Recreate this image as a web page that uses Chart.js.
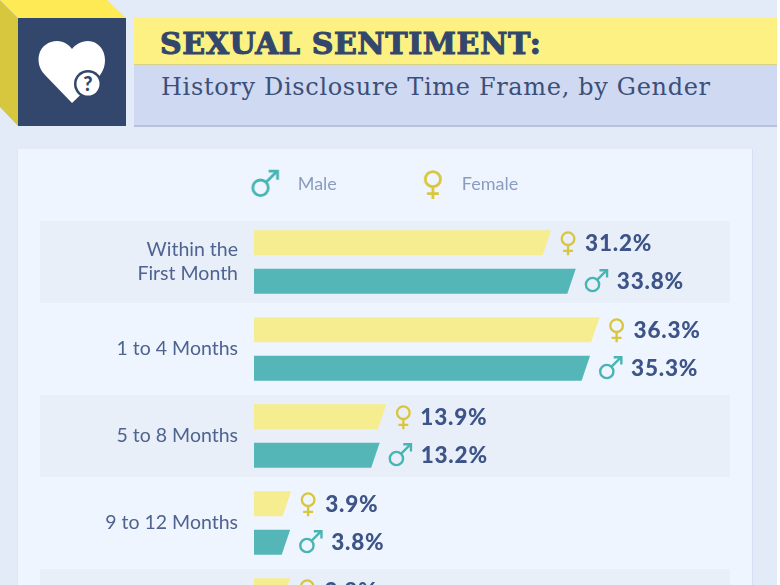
<!DOCTYPE html>
<html><head><meta charset="utf-8">
<script src="https://cdn.jsdelivr.net/npm/chart.js@4/dist/chart.umd.min.js"></script>
<style>
html,body{margin:0;padding:0;width:780px;height:585px;overflow:hidden;background:#fff}
#page{position:absolute;left:0;top:0;width:777px;height:585px;background:#e3eaf8;overflow:hidden}
.abs{position:absolute}
#card{left:18px;top:149px;width:734px;height:500px;background:#eff5fe;box-shadow:-1px 0 0 #dfe7f6,1px 0 0 #d5dff3}
#yl{left:134px;top:18px;width:643px;height:47px;background:#fdf183;box-shadow:inset 0 -1px 0 #d9d08a}
#bl{left:134px;top:65px;width:643px;height:60px;background:#cfd9f2;border-bottom:2px solid #b7c1dc}
#t1{left:160px;top:26px;font:900 30px "DejaVu Serif";letter-spacing:.55px;color:#33466b;-webkit-text-stroke:1.1px #33466b;white-space:nowrap}
#t2{left:161px;top:73px;font:400 24px "DejaVu Serif";letter-spacing:.67px;color:#3b4f78;white-space:nowrap}
canvas{position:absolute;left:0;top:0}
</style></head><body>
<div id="page">
<svg class="abs" style="left:0;top:0" width="130" height="130">
<polygon points="0,0 107,0 126,18 18,18" fill="#fdea55"/>
<polygon points="0,0 18,18 18,126 0,107" fill="#d6c73f"/>
<rect x="18" y="18" width="108" height="108" fill="#33466b"/>
<path d="M72 103 L45 75 C38 68 38 59 39 55 C41 46 49 41 57 41 C64 41 69 45 72 49 C75 45 81 41 88 41 C98 41 105 50 105 60 C105 68 102 73 97 79 Z" fill="#fff"/>
<circle cx="88" cy="84" r="14" fill="#33466b"/>
<circle cx="88" cy="84" r="11.5" fill="#fff"/>
<text x="88" y="91" text-anchor="middle" font-family="Lato" font-weight="900" font-size="20" fill="#33466b">?</text>
</svg>
<div class="abs" id="yl"></div><div class="abs" id="bl"></div>
<div class="abs" id="t1">SEXUAL SENTIMENT:</div>
<div class="abs" id="t2">History Disclosure Time Frame, by Gender</div>
<div class="abs" id="card"></div>
<canvas id="c" width="780" height="720" style="width:780px;height:720px"></canvas>
</div>
<script>
const categories = [["Within the","First Month"],"1 to 4 Months","5 to 8 Months","9 to 12 Months","More than 1 Year"];
const femaleValues = [31.2,36.3,13.9,3.9,3.8];
const maleValues = [33.8,35.3,13.2,3.8,3.7];
const seriesNames = ["Female","Male"];
const YELLOW="#f6ec90", TEAL="#55b6b8", INK="#3d5488", LABEL="#4e6390", FCOL="#d9c63f", MCOL="#47b5b3";
const BAND="#e9eff8", LEGEND="#8a9cc0";

function drawMale(ctx,x,y,s,col){
  ctx.save();ctx.translate(x,y);ctx.scale(s,s);ctx.strokeStyle=col;ctx.lineWidth=2.6;ctx.lineCap="butt";
  ctx.beginPath();ctx.arc(-3,3.5,7.2,0,Math.PI*2);ctx.stroke();
  ctx.beginPath();ctx.moveTo(2.2,-1.7);ctx.lineTo(12,-11.5);ctx.stroke();
  ctx.beginPath();ctx.moveTo(4.5,-12);ctx.lineTo(12.8,-12);ctx.lineTo(12.8,-4);ctx.stroke();
  ctx.restore();
}
function drawFemale(ctx,x,y,s,col){
  ctx.save();ctx.translate(x,y);ctx.scale(s,s);ctx.strokeStyle=col;ctx.lineWidth=2.6;
  ctx.beginPath();ctx.arc(0,-4.5,7,0,Math.PI*2);ctx.stroke();
  ctx.beginPath();ctx.moveTo(0,2.5);ctx.lineTo(0,14);ctx.moveTo(-5.5,9);ctx.lineTo(5.5,9);ctx.stroke();
  ctx.restore();
}
function legendIcon(fn,cx,col){
  const c=document.createElement("canvas");c.width=96;c.height=40;
  fn(c.getContext("2d"),cx,20,1.08,col);return c;
}
const iconF=legendIcon(drawFemale,76,FCOL), iconM=legendIcon(drawMale,71,MCOL);

const proto=Chart.BarElement.prototype;
proto.draw=function(ctx){
  const p=this.getProps(["x","y","base","height"],false);
  const top=p.y-p.height/2,bot=p.y+p.height/2;
  ctx.save();ctx.fillStyle=this.options.backgroundColor;ctx.beginPath();
  ctx.moveTo(p.base,top);ctx.lineTo(p.x,top);ctx.lineTo(p.x-8.5,bot);ctx.lineTo(p.base,bot);ctx.closePath();ctx.fill();ctx.restore();
};

const bands={id:"bands",beforeDraw(ch){
  const y=ch.scales.y,ctx=ch.ctx;ctx.save();ctx.fillStyle=BAND;
  categories.forEach((_,i)=>{if(i%2==0){const m=y.getPixelForValue(i);ctx.fillRect(40,m-41,690,82);}});
  ctx.restore();
}};
const valueLabels={id:"valueLabels",afterDatasetsDraw(ch){
  const ctx=ch.ctx;ctx.save();ctx.textBaseline="middle";ctx.font='900 22.5px Lato';ctx.letterSpacing="0.8px";
  ch.data.datasets.forEach((ds,d)=>{
    ch.getDatasetMeta(d).data.forEach((el,i)=>{
      const f=d===0;
      if(f)drawFemale(ctx,el.x+17,el.y,.9,FCOL);else drawMale(ctx,el.x+19.5,el.y,.92,MCOL);
      ctx.fillStyle=INK;ctx.fillText(ds.data[i].toFixed(1)+"%",el.x+(f?34:41),el.y+.5);
    });
  });
  ctx.restore();
}};

new Chart(document.getElementById("c"),{
  type:"bar",
  data:{labels:categories,datasets:[
    {label:seriesNames[0],data:femaleValues,backgroundColor:YELLOW,pointStyle:iconF},
    {label:seriesNames[1],data:maleValues,backgroundColor:TEAL,pointStyle:iconM}
  ]},
  options:{
    indexAxis:"y",responsive:false,animation:false,devicePixelRatio:1,
    categoryPercentage:.885,barPercentage:.65,
    layout:{padding:{left:40,right:109,top:155,bottom:66.5}},
    scales:{
      x:{position:"top",display:true,min:0,max:43.8,grid:{display:false,drawTicks:false},border:{display:false},
         ticks:{display:false},afterFit(s){s.height=15.5;}},
      y:{grid:{display:false,drawTicks:false},border:{display:false},
         afterFit(s){s.width=214;},
         ticks:{autoSkip:false,color:LABEL,padding:16,font:{family:"Lato",size:19.5,lineHeight:1.23}}}
    },
    plugins:{tooltip:{enabled:false},
      legend:{position:"top",align:"center",
        labels:{usePointStyle:true,pointStyleWidth:96,padding:20,color:LEGEND,font:{family:"Lato",size:18},
          sort:(a,b)=>b.datasetIndex-a.datasetIndex}}}
  },
  plugins:[bands,valueLabels]
});
</script>
</body></html>
